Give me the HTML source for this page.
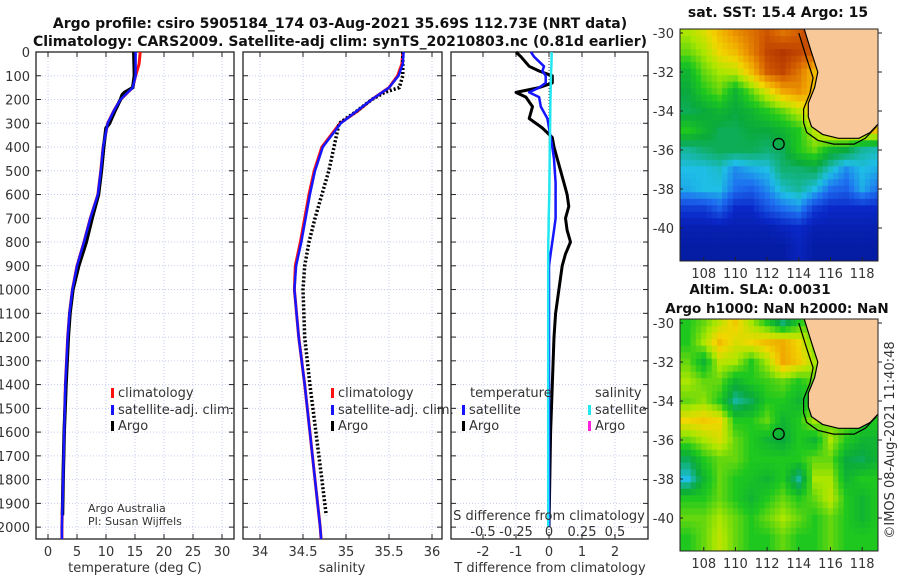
<!DOCTYPE html>
<html><head><meta charset="utf-8"><style>
body{margin:0;background:#fff;}
svg{display:block;font-family:"DejaVu Sans","Liberation Sans",sans-serif;}
.tk{font-size:13px;fill:#333;}
.ttl{font-size:14px;font-weight:bold;fill:#111;}
</style></head><body>
<svg id="fig" width="900" height="580" viewBox="0 0 900 580">
<g id="g"></g>
</svg>
<script>
// ---- profile data (depth m, value) ----
const tempClimDepth=[0,50,100,150,200,250,300,400,500,600,700,800,900,1000,1100,1200,1400,1600,1800,2000,2050];
const tempClimVals=[15.9,15.7,15.1,14.6,12.5,11.3,10.3,9.5,9.1,8.6,7.3,6.2,5.0,4.2,3.7,3.4,3.0,2.8,2.6,2.4,2.4];
const tempSatVals=[15.1,15.1,15.1,14.6,12.5,11.3,10.3,9.5,9.1,8.6,7.3,6.2,5.0,4.2,3.7,3.4,3.0,2.8,2.6,2.4,2.4];
const tempArgoDepth=[0,100,150,170,180,200,250,300,320,400,500,600,700,800,900,1000,1100,1200,1400,1600,1800,1950];
const tempArgoVals=[14.8,14.9,14.6,13.2,12.8,12.5,11.5,10.6,10.0,9.6,9.2,8.7,7.6,6.6,5.3,4.3,3.8,3.5,3.1,2.8,2.6,2.5];
const salClimDepth=[0,50,100,150,200,250,300,400,500,600,700,800,900,1000,1200,1400,1600,1800,2000,2050];
const salClimVals=[35.66,35.65,35.6,35.5,35.3,35.13,34.93,34.72,34.63,34.57,34.52,34.47,34.41,34.4,34.45,34.52,34.58,34.64,34.7,34.71];
const salSatVals=[35.67,35.66,35.61,35.5,35.3,35.12,34.94,34.73,34.64,34.58,34.53,34.48,34.42,34.4,34.45,34.52,34.58,34.64,34.7,34.71];
const salArgoDepth=[0,100,150,170,200,250,300,400,500,600,700,800,900,1000,1200,1400,1600,1800,1950];
const salArgoVals=[35.66,35.66,35.62,35.45,35.3,35.12,34.92,34.86,34.8,34.72,34.64,34.57,34.52,34.5,34.52,34.58,34.65,34.72,34.77];
const diffDepth=[0,20,60,80,100,130,150,170,190,230,280,320,360,400,450,550,600,650,700,750,800,850,900,1000,1100,1200,1400,1600,2000];
const tDiffArgo=[-1.0,-0.85,-0.6,-0.3,0.1,0.1,-0.3,-1.0,-0.7,-0.5,-0.6,-0.2,0.1,0.15,0.25,0.45,0.55,0.6,0.5,0.55,0.65,0.5,0.4,0.3,0.2,0.15,0.1,0.05,0.0];
const tDiffSat=[-0.55,-0.45,-0.15,-0.2,-0.1,-0.1,-0.3,-0.6,-0.3,-0.25,-0.05,0.0,0.05,0.1,0.15,0.2,0.2,0.2,0.2,0.15,0.1,0.05,0.0,0.0,0.0,0.0,0.0,0.0,0.0];
const sDiffSat=[0.02,0.02,0.018,0.016,0.015,0.014,0.013,0.012,0.011,0.01,0.009,0.008,0.007,0.006,0.005,0.003,0.002,0.0,-0.002,-0.003,-0.005,-0.006,-0.006,-0.006,-0.006,-0.006,-0.006,-0.006,-0.006];
const depthTicks=[0,100,200,300,400,500,600,700,800,900,1000,1100,1200,1300,1400,1500,1600,1700,1800,1900,2000];
const tempTicks=[0,5,10,15,20,25,30];
const salTicks=[34,34.5,35,35.5,36];
const salTickLabels=["34","34.5","35","35.5","36"];
const tdTicks=[-2,-1,0,1,2];
const sdTicks=[-0.5,-0.25,0,0.25,0.5];
const sdTickLabels=["-0.5","-0.25","0","0.25","0.5"];
// ---- map grids (rows lat -30..-41, cols lon 107..119), -1 = land ----
const sstRow0=[.6,.65,.72,.78,.82,.86,.82,.85,.9,-1,-1,-1,-1];
const sstRow1=[.55,.6,.68,.72,.8,.88,.9,.88,.85,-1,-1,-1,-1];
const sstRow2=[.45,.55,.6,.62,.72,.85,.88,.82,.72,-1,-1,-1,-1];
const sstRow3=[.42,.5,.55,.45,.55,.65,.75,.78,.72,.65,-1,-1,-1];
const sstRow4=[.4,.42,.45,.42,.45,.5,.55,.62,.7,.72,-1,-1,-1];
const sstRow5=[.5,.45,.4,.4,.42,.42,.45,.5,.62,.72,.75,.72,.72];
const sstRow6=[.35,.38,.4,.4,.4,.38,.4,.5,.55,.45,.42,.35,.33];
const sstRow7=[.3,.3,.32,.25,.28,.3,.38,.38,.4,.32,.25,.3,.28];
const sstRow8=[.28,.3,.3,.22,.2,.25,.32,.35,.3,.22,.2,.28,.22];
const sstRow9=[.15,.15,.2,.12,.12,.18,.22,.25,.15,.12,.12,.12,.12];
const sstRow10=[.08,.08,.08,.08,.08,.08,.1,.12,.08,.08,.08,.08,.08];
const sstRow11=[.06,.06,.06,.06,.06,.06,.06,.1,.06,.06,.06,.06,.06];
const slaRow0=[.5,.55,.62,.7,.6,.5,.38,.5,.55,-1,-1,-1,-1];
const slaRow1=[.5,.6,.72,.65,.68,.72,.74,.68,.55,-1,-1,-1,-1];
const slaRow2=[.55,.45,.62,.6,.5,.6,.75,.7,.6,-1,-1,-1,-1];
const slaRow3=[.6,.55,.55,.45,.5,.52,.55,.5,.55,.5,-1,-1,-1];
const slaRow4=[.55,.58,.5,.35,.4,.5,.5,.45,.5,.55,-1,-1,-1];
const slaRow5=[.68,.7,.68,.5,.5,.55,.45,.5,.6,.55,.55,.5,.5];
const slaRow6=[.55,.6,.65,.55,.5,.45,.42,.5,.45,.6,.5,.45,.45];
const slaRow7=[.4,.5,.55,.55,.5,.5,.5,.5,.55,.55,.42,.4,.45];
const slaRow8=[.3,.45,.55,.5,.48,.45,.5,.35,.6,.6,.45,.5,.5];
const slaRow9=[.5,.5,.55,.5,.45,.5,.55,.5,.55,.62,.5,.45,.5];
const slaRow10=[.55,.55,.6,.55,.5,.55,.6,.55,.5,.55,.5,.45,.5];
const slaRow11=[.5,.55,.62,.55,.5,.5,.55,.5,.5,.55,.5,.5,.5];
const lonTicks=[108,110,112,114,116,118];
const latTicks=[-30,-32,-34,-36,-38,-40];
const coastLon=[114.3,114.8,115.2,115.0,114.6,114.6,114.8,115.5,116.5,117.8,118.5,119.2];
const coastLat=[-29.7,-31.0,-32.0,-32.8,-33.6,-34.3,-34.8,-35.2,-35.4,-35.4,-35.1,-34.5];
const argoLon=112.73, argoLat=-35.69;

const NS="http://www.w3.org/2000/svg";
const G=document.getElementById('g');
function el(tag,attrs,parent){const e=document.createElementNS(NS,tag);for(const k in attrs)e.setAttribute(k,attrs[k]);(parent||G).appendChild(e);return e;}
function txt(s,x,y,cls,anchor,extra){const t=el('text',Object.assign({x:x,y:y,class:cls||'tk','text-anchor':anchor||'middle'},extra||{}));t.textContent=s;return t;}

const Y0=52,Y1=539,DMAX=2050;
function yD(d){return Y0+(d/DMAX)*(Y1-Y0);}
function lin(v0,p0,v1,p1){return v=>p0+(v-v0)*(p1-p0)/(v1-v0);}
const panels=[
 {x0:36,x1:234,sx:lin(0,48,30,222),name:'temperature-panel'},
 {x0:243,x1:442,sx:lin(34,260,34.5,303),name:'salinity-panel'},
 {x0:451,x1:648,sx:lin(0,549,1,582),name:'difference-panel'}
];
function frame(p,ticks){
  const f=el('g',{});
  
  
  depthTicks.forEach(d=>{el('line',{x1:p.x0,x2:p.x1,y1:yD(d),y2:yD(d),stroke:'#c5cdf0','stroke-width':1,'stroke-dasharray':'1 2'},f);
    el('line',{x1:p.x0,x2:p.x0+5,y1:yD(d),y2:yD(d),stroke:'#222'},f);el('line',{x1:p.x1-5,x2:p.x1,y1:yD(d),y2:yD(d),stroke:'#222'},f);});
  ticks.forEach(v=>{const x=p.sx(v);el('line',{x1:x,x2:x,y1:Y0,y2:Y1,stroke:'#c5cdf0','stroke-dasharray':'1 2'},f);
    el('line',{x1:x,x2:x,y1:Y1,y2:Y1-5,stroke:'#222'},f);el('line',{x1:x,x2:x,y1:Y0,y2:Y0+5,stroke:'#222'},f);});
  el('rect',{x:p.x0,y:Y0,width:p.x1-p.x0,height:Y1-Y0,fill:'none',stroke:'#222','stroke-width':1.3},f);
  return f;
}
function line(depths,vals,sx,stroke,w,name,dash){
  const pts=depths.map((d,i)=>sx(vals[i]).toFixed(1)+','+yD(d).toFixed(1)).join(' ');
  const a={points:pts,fill:'none',stroke:stroke,'stroke-width':w,'stroke-linejoin':'round'};
  if(dash)a['stroke-dasharray']=dash;
  const e=el('polyline',a);
  
  
  return e;
}
let t=txt('Argo profile: csiro 5905184_174 03-Aug-2021 35.69S 112.73E (NRT data)',340,28,'ttl');


t=txt('Climatology: CARS2009. Satellite-adj clim: synTS_20210803.nc (0.81d earlier)',340,46,'ttl');



const p1=panels[0];frame(p1,tempTicks);
depthTicks.forEach(d=>{const l=txt(String(d),30,yD(d)+5,'tk','end');});
tempTicks.forEach(v=>{const l=txt(String(v),p1.sx(v),556);});
t=txt('temperature (deg C)',135,572);
line(tempClimDepth,tempClimVals,p1.sx,'#ff1010',3,'temp-climatology-line');
line(tempArgoDepth,tempArgoVals,p1.sx,'#000',3.5,'temp-argo-line');
line(tempClimDepth,tempSatVals,p1.sx,'#1515ff',2.5,'temp-satellite-line');
const p2=panels[1];frame(p2,salTicks);
salTicks.forEach((v,i)=>{const l=txt(salTickLabels[i],p2.sx(v),556);});
t=txt('salinity',342,572);
line(salClimDepth,salClimVals,p2.sx,'#ff1010',3,'sal-climatology-line');
line(salArgoDepth,salArgoVals,p2.sx,'#000',3.5,'sal-argo-line','2 2');
line(salClimDepth,salSatVals,p2.sx,'#1515ff',2.5,'sal-satellite-line');
const p3=panels[2];frame(p3,tdTicks);
const sdx=v=>p3.sx(v*4);
el('line',{x1:p3.sx(0),x2:p3.sx(0),y1:Y0,y2:Y1,stroke:'#333','stroke-dasharray':'1 2'});
line(diffDepth,tDiffArgo,p3.sx,'#000',3,'tdiff-argo-line');
line(diffDepth,tDiffSat,p3.sx,'#1515ff',2.5,'tdiff-satellite-line');
line(diffDepth,sDiffSat,sdx,'#22e6f0',2.5,'sdiff-satellite-line');
tdTicks.forEach(v=>{const l=txt(String(v),p3.sx(v),556);});
t=txt('T difference from climatology',550,572);
t=txt('S difference from climatology',549,520);
sdTicks.forEach((v,i)=>{const l=txt(sdTickLabels[i],sdx(v),536);});

function legItem(x,y,color,label,name){
  const g=el('g',{});
  
  
  el('rect',{x:x,y:y-9,width:3,height:10,fill:color},g);
  const tt=el('text',{x:x+7,y:y,class:'tk','text-anchor':'start'},g);tt.textContent=label;
}
[111,331].forEach(x=>{
  legItem(x,397,'#ff1010','climatology','legend-climatology');
  legItem(x,414,'#1515ff','satellite-adj. clim.','legend-satellite');
  legItem(x,430,'#000','Argo','legend-argo');
});
txt('temperature',470,397,'tk','start');
legItem(462,414,'#1515ff','satellite','legend-t-satellite');
legItem(462,430,'#000','Argo','legend-t-argo');
txt('salinity',595,397,'tk','start');
legItem(588,414,'#22e6f0','satellite','legend-s-satellite');
legItem(588,430,'#ff22dd','Argo','legend-s-argo');
t=txt('Argo Australia',88,512,'tk','start',{style:'font-size:11px'});
t=txt('PI: Susan Wijffels',88,525,'tk','start',{style:'font-size:11px'});

function jet(v){
  const s=[[0,[0,16,130]],[0.12,[10,40,200]],[0.22,[30,110,240]],[0.3,[30,190,230]],[0.36,[20,180,140]],[0.42,[10,170,60]],[0.5,[30,200,30]],[0.6,[170,230,0]],[0.68,[240,215,0]],[0.76,[240,160,0]],[0.84,[215,100,0]],[0.92,[170,40,0]],[1,[130,10,0]]];
  v=Math.max(0,Math.min(1,v));
  for(let i=1;i<s.length;i++){if(v<=s[i][0]){const a=s[i-1],b=s[i],f=(v-a[0])/(b[0]-a[0]);return 'rgb('+a[1].map((c,k)=>Math.round(c+f*(b[1][k]-c))).join(',')+')';}}
  return 'rgb(130,10,0)';
}
const sstGrid=[sstRow0,sstRow1,sstRow2,sstRow3,sstRow4,sstRow5,sstRow6,sstRow7,sstRow8,sstRow9,sstRow10,sstRow11];
const slaGrid=[slaRow0,slaRow1,slaRow2,slaRow3,slaRow4,slaRow5,slaRow6,slaRow7,slaRow8,slaRow9,slaRow10,slaRow11];
function sample(grid,fr,fc){
  // bilinear between cell centres, ignoring land
  const R=grid.length,C=grid[0].length;
  const r0=Math.max(0,Math.min(R-1,Math.floor(fr))),c0=Math.max(0,Math.min(C-1,Math.floor(fc)));
  const r1=Math.min(R-1,r0+1),c1=Math.min(C-1,c0+1);
  const dr=Math.max(0,Math.min(1,fr-r0)),dc=Math.max(0,Math.min(1,fc-c0));
  let s=0,w=0;
  [[r0,c0,(1-dr)*(1-dc)],[r0,c1,(1-dr)*dc],[r1,c0,dr*(1-dc)],[r1,c1,dr*dc]].forEach(([r,c,ww])=>{const v=grid[r][c];if(v>=0&&ww>0){s+=v*ww;w+=ww;}});
  return w>0?s/w:-1;
}
function drawMap(grid,top,bottom,name){
  const mx0=680,mx1=878;
  const sx=lin(106.5,mx0,119,mx1), sy=lin(-30,top+4,-40,top+199);
  const g=el('g',{});
  
  
  const cid='clip'+name;
  const cp=el('clipPath',{id:cid},g);el('rect',{x:mx0,y:top,width:mx1-mx0,height:bottom-top},cp);
  const cells=el('g',{'clip-path':'url(#'+cid+')'},g);
  el('rect',{x:mx0,y:top,width:mx1-mx0,height:bottom-top,fill:'#f9c898'},cells);
  const SUB=3;
  for(let lat=-29.5;lat>-42;lat-=1/SUB){
    for(let lon=106.5;lon<119.5;lon+=1/SUB){
      const clon=lon+0.5/SUB, clat=lat-0.5/SUB;
      const fr=Math.min(11,(-30-clat)), fc=clon-107;
      const v=sample(grid,fr,fc);
      const x=sx(lon),y=sy(lat),w=sx(lon+1/SUB)-x+0.6,h=sy(lat-1/SUB)-y+0.6;
      const rc=el('rect',{x:x.toFixed(1),y:y.toFixed(1),width:w.toFixed(1),height:h.toFixed(1),fill:v<0?'#f9c898':jet(v)},cells);
      
      
    }
  }
  const cpts=coastLon.map((lo,i)=>sx(lo).toFixed(1)+','+sy(coastLat[i]).toFixed(1)).join(' ');
  el('polygon',{points:cpts+' '+sx(119.5)+','+(top-5),fill:'#f9c898',stroke:'none'},cells);
  el('polyline',{points:cpts,fill:'none',stroke:'#000','stroke-width':1.2},cells);
  const iso=coastLon.map((lo,i)=>sx(lo-0.3).toFixed(1)+','+sy(coastLat[i]-0.3).toFixed(1)).join(' ');
  el('polyline',{points:iso,fill:'none',stroke:'#000','stroke-width':1.2},cells);
  const ci=el('circle',{cx:sx(argoLon),cy:sy(argoLat),r:5.5,fill:'none',stroke:'#000','stroke-width':1.3},g);
  
  
  el('rect',{x:mx0,y:top,width:mx1-mx0,height:bottom-top,fill:'none',stroke:'#222'},g);
  lonTicks.forEach(lo=>{const x=sx(lo);el('line',{x1:x,x2:x,y1:bottom,y2:bottom-4,stroke:'#222'},g);
    const l=txt(String(lo),x,bottom+17);});
  latTicks.forEach(la=>{const y=sy(la);el('line',{x1:mx1,x2:mx1+4,y1:y,y2:y,stroke:'#222'},g);el('line',{x1:mx0,x2:mx0+3,y1:y,y2:y,stroke:'#222'},g);
    const l=txt(String(la),674,y+5,'tk','end');});
  return g;
}
drawMap(sstGrid,29,261,'sst-map');
drawMap(slaGrid,319,551,'sla-map');
t=txt('sat. SST: 15.4 Argo: 15',778,17,'ttl');
t=txt('Altim. SLA: 0.0031',760,294,'ttl','middle',{style:'font-size:13.5px'});
t=txt('Argo h1000: NaN h2000: NaN',777,313,'ttl','middle',{style:'font-size:13.5px'});
t=txt('©IMOS 08-Aug-2021 11:40:48',0,0,'tk','middle',{transform:'translate(894,440) rotate(-90)'});
</script>
</body></html>
